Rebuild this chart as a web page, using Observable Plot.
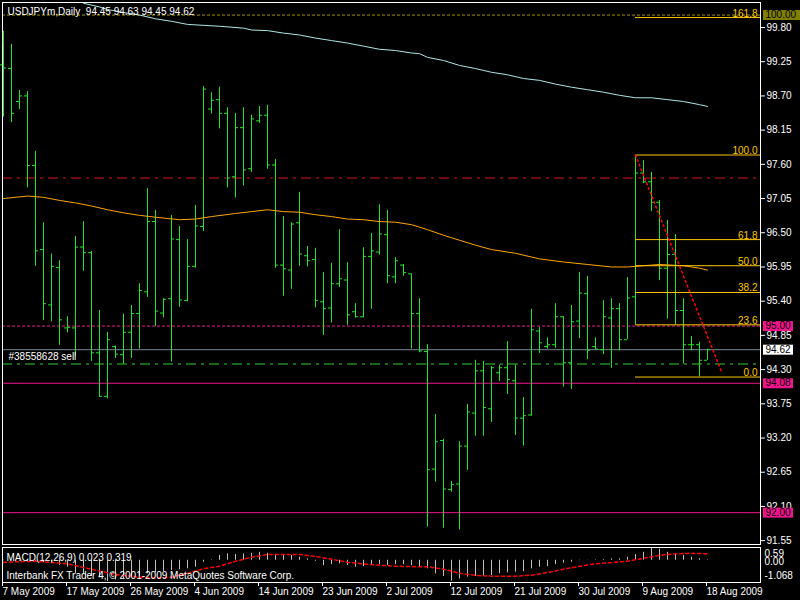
<!DOCTYPE html>
<html><head><meta charset="utf-8">
<script src="https://cdn.jsdelivr.net/npm/d3@7"></script>
<script src="https://cdn.jsdelivr.net/npm/@observablehq/plot@0.6"></script>
<style>
html,body{margin:0;padding:0;background:#000;width:800px;height:600px;overflow:hidden}
#chart svg{display:block}
</style></head><body><div id="chart"></div>
<script>
// ---------- DATA ----------
const titleText = "USDJPYm,Daily  94.45 94.63 94.45 94.62";
const macdTitle = "MACD(12,26,9) 0.023 0.319";
const copyright = "Interbank FX Trader 4, \u00a9 2001-2009 MetaQuotes Software Corp.";
const orderLabel = "#38558628 sell";

const opens = [99.20,99.14,98.61,98.70,97.58,96.23,95.34,95.94,94.97,94.97,
 96.27,96.18,94.57,93.87,94.67,94.54,94.90,95.20,95.55,96.68,
 95.21,95.44,96.39,95.41,95.96,96.60,98.49,98.64,98.42,97.40,
 98.19,97.53,98.30,98.39,97.59,95.98,95.90,96.66,96.13,96.07,
 95.39,95.29,95.68,95.74,95.23,95.15,96.12,96.19,96.47,95.79,
 95.98,95.84,95.20,94.59,92.70,93.16,92.37,92.46,93.07,93.60,
 94.28,93.67,94.25,94.33,94.12,93.52,93.57,94.92,94.67,94.70,
 95.15,94.41,95.08,95.52,94.67,94.62,95.13,95.28,94.78,95.47,
 97.46,97.32,96.99,95.93,96.15,95.25,94.70,94.70,94.45];
const highs = [99.74,99.53,98.79,98.77,97.81,96.66,96.16,96.05,95.15,96.44,
 96.68,96.20,95.25,94.90,94.68,95.19,95.33,95.68,97.21,96.86,
 95.44,96.78,96.60,96.39,96.94,98.85,98.75,98.84,98.51,98.42,
 98.51,98.39,98.53,98.55,97.68,96.76,96.66,97.15,96.28,96.25,
 95.86,96.01,96.55,96.02,95.36,96.26,96.49,96.95,96.86,96.10,
 95.99,95.84,95.44,94.70,93.58,93.18,92.50,93.14,93.74,94.45,
 94.43,94.35,94.37,94.75,94.37,93.85,95.27,94.98,94.81,95.36,
 95.15,95.33,95.86,95.80,94.81,95.41,95.44,95.36,95.78,97.75,
 97.66,97.47,97.02,96.70,96.47,95.44,94.83,94.74,94.63];
const lows = [98.36,98.27,98.48,97.22,95.96,95.09,95.07,94.69,94.89,94.51,
 95.88,94.43,93.86,93.83,94.48,94.39,94.48,94.63,95.46,94.99,
 95.13,94.42,95.30,95.39,95.93,96.52,98.41,98.17,97.22,97.06,
 97.25,97.47,98.26,97.52,95.93,95.48,95.59,95.96,95.95,95.29,
 94.85,95.05,95.62,95.01,95.13,95.13,95.27,96.14,95.68,95.68,
 95.80,94.63,94.57,91.77,92.49,91.75,92.33,91.72,92.68,93.23,
 93.23,93.45,94.11,93.90,93.24,93.07,93.55,94.56,94.63,94.64,
 94.02,93.98,94.80,94.46,94.61,94.54,94.32,94.60,94.78,95.02,
 97.29,96.84,95.73,95.11,95.02,94.39,94.60,94.18,94.45];
const closes = [99.15,98.42,98.70,97.58,96.21,95.36,95.96,95.10,94.98,96.27,
 96.18,94.57,93.87,94.78,94.55,94.90,95.20,95.57,96.68,95.24,
 95.43,96.40,95.42,95.96,96.61,98.81,98.63,98.42,97.38,98.19,
 97.51,98.33,98.39,97.59,95.98,95.92,96.64,96.16,96.05,95.41,
 95.28,95.68,95.76,95.18,95.15,96.12,96.21,96.48,95.81,96.05,
 95.86,95.20,94.60,92.69,93.14,92.38,92.45,93.07,93.62,94.28,
 93.69,94.33,94.33,94.14,93.52,93.56,94.94,94.73,94.70,95.15,
 94.41,95.07,95.53,94.61,94.63,95.15,95.28,94.78,95.45,97.46,
 97.32,96.99,95.93,96.15,95.25,94.70,94.70,94.45,94.62];

const orangeBars = [0,3,5,7,9,11,13,15,17,19,22,24,26,29,31,33,35,37,39,41,43,45,47,49,51,53,55,57,59,61,64,67,70,73,76,78,80,82,85,87,88];
const orangePrices = [97.05,97.09,97.07,97.02,96.98,96.93,96.87,96.82,96.78,96.75,
 96.71,96.72,96.76,96.81,96.84,96.87,96.84,96.83,96.79,96.76,
 96.72,96.71,96.68,96.67,96.63,96.55,96.46,96.38,96.30,96.23,
 96.17,96.08,96.03,95.99,95.95,95.95,95.97,95.99,95.97,95.93,95.90];
const cyanBars = [10,12,13,15,17,19,21,23,27,30,31,33,35,37,39,41,43,45,47,49,51,52,53,55,57,59,61,63,65,67,69,71,73,75,77,79,81,83,85,87,88];
const cyanPrices = [100.19,100.13,100.09,100.04,100.00,99.94,99.90,99.85,99.82,99.79,
 99.76,99.75,99.71,99.68,99.63,99.59,99.55,99.50,99.45,99.43,
 99.39,99.38,99.32,99.27,99.19,99.14,99.08,99.04,98.98,98.95,
 98.89,98.84,98.80,98.76,98.71,98.67,98.67,98.64,98.61,98.56,98.53];

const macdMain = [-0.02,-0.03,-0.04,-0.06,-0.08,-0.12,-0.18,-0.26,-0.35,-0.68,
 -0.72,-0.80,-0.89,-1.068,-0.99,-0.92,-0.85,-0.80,-0.68,-0.63,
 -0.57,-0.52,-0.48,-0.43,-0.35,-0.10,0.02,0.24,0.32,0.29,
 0.32,0.35,0.40,0.35,0.29,0.24,0.24,0.15,0.07,-0.05,
 -0.27,-0.22,-0.18,-0.27,-0.35,-0.32,-0.25,-0.22,-0.27,-0.22,
 -0.22,-0.27,-0.32,-0.43,-0.68,-0.82,-1.05,-0.94,-0.85,-0.82,
 -0.82,-0.77,-0.68,-0.63,-0.60,-0.57,-0.43,-0.35,-0.32,-0.22,
 -0.15,-0.10,-0.02,0.01,0.02,0.04,0.07,0.07,0.15,0.29,
 0.40,0.59,0.55,0.40,0.32,0.24,0.15,0.07,0.023];
const signalBars = [0,4,8,11,14,17,19,21,23,25,27,29,31,33,35,37,39,41,43,45,47,49,51,53,55,57,59,61,64,66,68,70,72,74,76,78,80,82,84,86,88];
const signalVals = [-0.10,-0.05,-0.18,-0.45,-0.72,-0.85,-0.89,-0.85,-0.65,-0.43,
 -0.30,-0.05,0.15,0.29,0.29,0.29,0.19,0.05,-0.10,-0.18,
 -0.25,-0.30,-0.32,-0.33,-0.45,-0.65,-0.76,-0.80,-0.80,-0.75,
 -0.62,-0.45,-0.30,-0.18,-0.12,-0.05,0.10,0.25,0.32,0.35,0.32];

const priceTicks = [99.80,99.25,98.70,98.15,97.60,97.05,96.50,95.95,95.40,94.85,94.30,93.75,93.20,92.65,92.10,91.55];
const dateTickBars = [0,8,16,24,32,40,48,56,64,72,80,88];
const dateLabels = ["7 May 2009","17 May 2009","26 May 2009","4 Jun 2009","14 Jun 2009","23 Jun 2009","2 Jul 2009","12 Jul 2009","21 Jul 2009","30 Jul 2009","9 Aug 2009","18 Aug 2009"];
const macdAxisVals = [0.59, 0.00, -1.068];

const hLinePrices = [100.00, 97.38, 95.00, 94.62, 94.39, 94.08, 92.00];
const boxPrices = [100.00, 95.00, 94.62, 94.08, 92.00];
const orderPrice = 94.62;

const fibLabels = ["0.0","23.6","38.2","50.0","61.8","100.0","161.8"];
const fibPrices = [94.18, 95.02, 95.54, 95.97, 96.39, 97.75, 99.96];
const fibStartBar = 79;
const trendBars = [79, 89.8];
const trendPrices = [97.75, 94.25];

// ---------- STYLE / LAYOUT ----------
const FONT = "'Liberation Sans', Arial, sans-serif";
const FS = 10;
const GREEN = "#1ee61e", ORANGE = "#ffa500", CYAN = "#aee6e6", GOLD = "#ffc800";
const PINK = "#f0148c";
const X_DOMAIN = [-0.125, 94.625];
const pxToX = px => (px - 2) / 8 - 0.125;   // layout helper for annotation boxes
const hLineStyles = [
  {stroke: "#a09400", dash: "3,2"},
  {stroke: "#dc1414", dash: "10,5,3,5"},
  {stroke: PINK, dash: "3,2"},
  {stroke: "#778899", dash: null},
  {stroke: "#32cd32", dash: "10,5,3,5"},
  {stroke: PINK, dash: null},
  {stroke: PINK, dash: null}
];
const boxStyles = [
  {bg: "#808000", fg: "#000", w: 37},
  {bg: PINK, fg: "#000", w: 30},
  {bg: "#ffffff", fg: "#000", w: 30},
  {bg: PINK, fg: "#000", w: 30},
  {bg: PINK, fg: "#000", w: 30}
];
const macdAxisStyle = [
  {anchor: "top", dy: 1},
  {anchor: "middle", dy: 2},
  {anchor: "bottom", dy: -3}
];

const bars = opens.map((o, k) => ({i: k, open: o, high: highs[k], low: lows[k], close: closes[k]}));
const orange = orangeBars.map((b, k) => ({i: b, p: orangePrices[k]}));
const cyan = cyanBars.map((b, k) => ({i: b, p: cyanPrices[k]}));
const trend = trendBars.map((b, k) => ({i: b, p: trendPrices[k]}));
const macdRows = macdMain.map((v, k) => ({i: k, v}));
const signalRows = signalBars.map((b, k) => ({i: b, v: signalVals[k]}));
const TICK = 0.375;

const main = Plot.plot({
  width: 800, height: 545,
  marginLeft: 2, marginRight: 40, marginTop: 2, marginBottom: 1,
  style: {background: "#000", color: "#fff", fontFamily: FONT, fontSize: FS + "px", overflow: "visible"},
  x: {domain: X_DOMAIN, axis: null},
  y: {domain: [91.488, 100.202], label: null},
  marks: [
    ...hLinePrices.map((p, k) => Plot.ruleY([p], {stroke: hLineStyles[k].stroke, strokeDasharray: hLineStyles[k].dash})),
    Plot.ruleX(bars, {x: "i", y1: "low", y2: "high", stroke: GREEN}),
    Plot.ruleY(bars, {y: "open", x1: d => d.i - TICK, x2: "i", stroke: GREEN}),
    Plot.ruleY(bars, {y: "close", x1: "i", x2: d => d.i + TICK, stroke: GREEN}),
    Plot.line(orange, {x: "i", y: "p", stroke: ORANGE, strokeWidth: 1, clip: true}),
    Plot.line(cyan, {x: "i", y: "p", stroke: CYAN, strokeWidth: 1, clip: true}),
    Plot.ruleY(fibPrices, {x1: fibStartBar, x2: X_DOMAIN[1], stroke: GOLD}),
    Plot.text(fibPrices, {y: d => d, text: (d, k) => fibLabels[k], frameAnchor: "right", dx: -3, dy: -1, lineAnchor: "bottom", textAnchor: "end", fill: GOLD, fontSize: FS}),
    Plot.line(trend, {x: "i", y: "p", stroke: "#ff0000", strokeDasharray: "2,3"}),
    Plot.frame({stroke: "#fff"}),
    Plot.axisY(priceTicks, {anchor: "right", tickSize: 4, tickPadding: 2, tickFormat: d => d.toFixed(2), color: "#fff", label: null, fontSize: FS}),
    ...boxPrices.map((p, k) => Plot.ruleY([p], {x1: pxToX(763), x2: pxToX(763 + boxStyles[k].w), stroke: boxStyles[k].bg, strokeWidth: 10})),
    ...boxPrices.map((p, k) => Plot.text([p], {y: d => d, text: d => d.toFixed(2), frameAnchor: "right", dx: 5, textAnchor: "start", fill: boxStyles[k].fg, fontSize: FS})),
    Plot.text([titleText], {frameAnchor: "top-left", dx: 5, dy: 5, lineAnchor: "top", textAnchor: "start", fill: "#fff", fontSize: FS}),
    Plot.text([orderLabel], {y: () => orderPrice, frameAnchor: "left", dx: 6, dy: 7.5, lineAnchor: "middle", textAnchor: "start", fill: "#fff", fontSize: FS})
  ]
});

const macd = Plot.plot({
  width: 800, height: 55,
  marginLeft: 2, marginRight: 40, marginTop: 2, marginBottom: 18,
  style: {background: "#000", color: "#fff", fontFamily: FONT, fontSize: FS + "px", overflow: "visible"},
  x: {domain: X_DOMAIN, label: null},
  y: {domain: [-1.118, 0.64], axis: null},
  marks: [
    Plot.ruleX(macdRows, {x: "i", y1: 0, y2: "v", stroke: "#c0c0c0"}),
    Plot.line(signalRows, {x: "i", y: "v", stroke: "#ff0000", strokeDasharray: "3,3"}),
    Plot.frame({stroke: "#fff"}),
    Plot.axisX(dateTickBars, {anchor: "bottom", tickSize: 4, tickPadding: 1, tickFormat: d => dateLabels[dateTickBars.indexOf(d)], textAnchor: "start", dx: -1, color: "#fff", label: null, fontSize: FS}),
    ...macdAxisVals.map((v, k) => Plot.text([v], {y: d => d, text: d => String(d === 0 ? "0.00" : d), frameAnchor: "right", dx: 4, dy: macdAxisStyle[k].dy, lineAnchor: macdAxisStyle[k].anchor, textAnchor: "start", fill: "#fff", fontSize: FS})),
    Plot.text([macdTitle], {frameAnchor: "top-left", dx: 4, dy: 6, lineAnchor: "top", textAnchor: "start", fill: "#fff", fontSize: FS}),
    Plot.text([copyright], {frameAnchor: "top-left", dx: 4, dy: 24, lineAnchor: "top", textAnchor: "start", fill: "#fff", fontSize: FS})
  ]
});

const root = document.getElementById("chart");
root.appendChild(main);
root.appendChild(macd);
</script>
</body></html>
